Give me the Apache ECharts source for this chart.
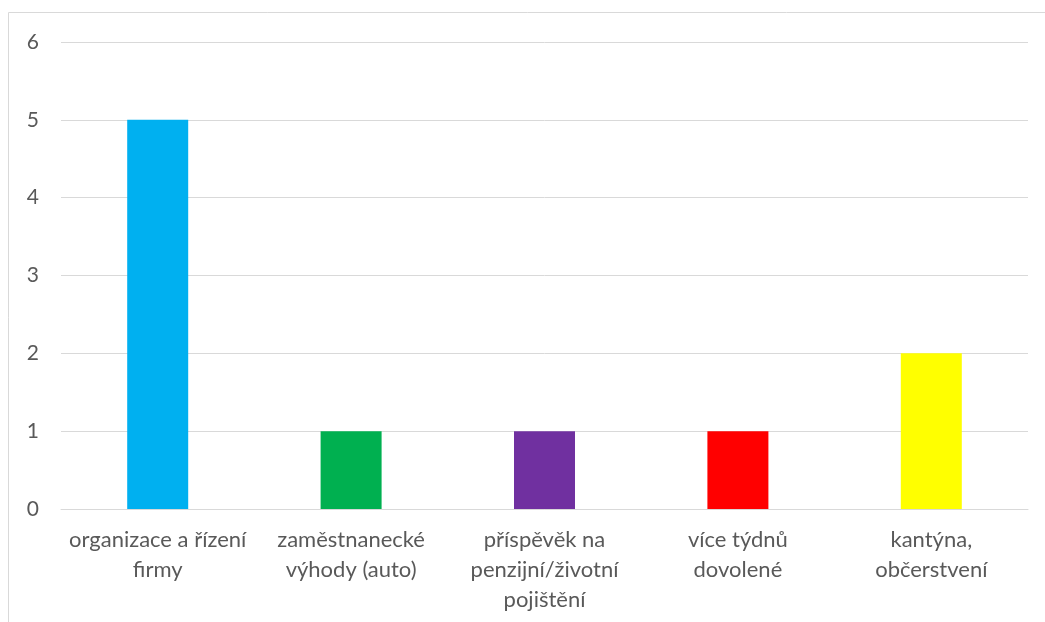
<!DOCTYPE html>
<html>
<head>
<meta charset="utf-8">
<script src="https://cdn.jsdelivr.net/npm/echarts@6/dist/echarts.min.js"></script>
<style>
  html, body { margin: 0; padding: 0; background: #fff; }
  #chart { width: 1045px; height: 622px; }
</style>
</head>
<body>
<div id="chart"></div>
<script>
const categories = [
  'organizace a řízení\nfirmy',
  'zaměstnanecké\nvýhody (auto)',
  'příspěvěk na\npenzijní/životní\npojištění',
  'více týdnů\ndovolené',
  'kantýna,\nobčerstvení'
]
const values = [5, 1, 1, 1, 2]
const barColors = ['#00B0F0', '#00B050', '#7030A0', '#FF0000', '#FFFF00']

const chart = echarts.init(document.getElementById('chart'))

const options = {
  animation: false,
  textStyle: { fontFamily: 'Lato, "Open Sans", sans-serif' },
  graphic: [{
    type: 'rect',
    shape: { x: 8.5, y: 12.5, width: 1100, height: 700 },
    style: { fill: 'none', stroke: '#d9d9d9', lineWidth: 1 },
    silent: true
  }],
  grid: { left: 61, right: 17, top: 42, bottom: 113 },
  xAxis: {
    type: 'category',
    data: categories,
    axisLine: { show: true, lineStyle: { color: '#d9d9d9', width: 1 } },
    axisTick: { show: false },
    axisLabel: {
      color: '#595959',
      fontSize: 22,
      lineHeight: 30,
      margin: 16,
      interval: 0
    }
  },
  yAxis: {
    type: 'value',
    min: 0,
    max: 6,
    interval: 1,
    axisLine: { show: false },
    axisTick: { show: false },
    splitLine: { lineStyle: { color: '#d9d9d9', width: 1 } },
    axisLabel: { color: '#595959', fontSize: 21, margin: 22 }
  },
  series: [{
    type: 'bar',
    data: values.map((v, i) => ({ value: v, itemStyle: { color: barColors[i] } })),
    barWidth: 61
  }]
}

chart.setOption(options)
</script>
</body>
</html>
